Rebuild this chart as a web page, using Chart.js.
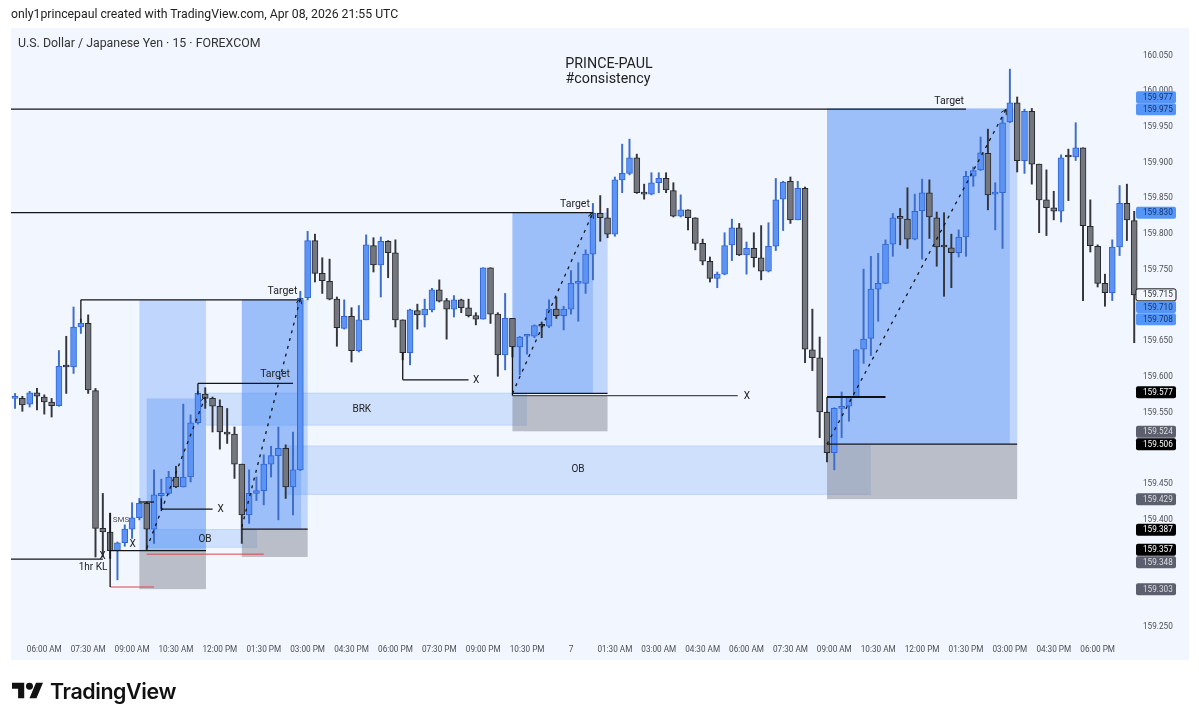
<!DOCTYPE html>
<html>
<head>
<meta charset="utf-8">
<title>USDJPY 15</title>
<script src="https://cdn.jsdelivr.net/npm/chart.js@4"></script>
<style>
    html, body { margin: 0; padding: 0; background: #fff; }
    #wrap { position: relative; width: 1199px; height: 722px; overflow: hidden; font-family: Roboto, sans-serif; }
    #chart { position: absolute; left: 0; top: 0; }
    #created { position: absolute; left: 11px; top: 7px; font-size: 12.25px; color: #222; white-space: nowrap; }
    #symbol { position: absolute; left: 18px; top: 36px; font-size: 12.35px; color: #333; white-space: nowrap; }
    #logo { position: absolute; left: 12px; top: 682px; }
    #brand { position: absolute; left: 50px; top: 678px; font-family: Inter, sans-serif; font-weight: 600; font-size: 21.4px; letter-spacing: -0.4px; color: #111; white-space: nowrap; }
</style>
</head>
<body>
<div id="wrap">
    <canvas id="chart" width="1199" height="722"></canvas>
    <div id="created">only1princepaul created with TradingView.com, Apr 08, 2026 21:55 UTC</div>
    <div id="symbol">U.S. Dollar / Japanese Yen · 15 · FOREXCOM</div>
    <svg id="logo" width="31" height="17" viewBox="0 4 35.5 18"><path fill="#111" d="M14 22H7V11H0V4h14v18zM28 22h-8l7.5-18h8L28 22z"/><circle fill="#111" cx="20" cy="8" r="4"/></svg>
    <div id="brand">TradingView</div>
</div>
<script>
// candles, first one sits 4 bars before the 06:00 AM tick
const opens = [
    159.570, 159.570, 159.562, 159.578, 159.572, 159.565, 159.560, 159.615, 159.614, 159.670,
    159.675, 159.581, 159.388, 159.383, 159.357, 159.368, 159.387, 159.403, 159.423, 159.387,
    159.434, 159.437, 159.460, 159.446, 159.460, 159.536, 159.576, 159.570, 159.559, 159.523,
    159.520, 159.478, 159.407, 159.437, 159.441, 159.478, 159.490, 159.500, 159.446, 159.470,
    159.711, 159.791, 159.745, 159.734, 159.709, 159.668, 159.685, 159.637, 159.680, 159.784,
    159.757, 159.790, 159.774, 159.680, 159.634, 159.693, 159.687, 159.694, 159.722, 159.707,
    159.695, 159.708, 159.697, 159.686, 159.681, 159.753, 159.688, 159.631, 159.682, 159.642,
    159.657, 159.657, 159.673, 159.671, 159.695, 159.686, 159.695, 159.731, 159.731, 159.772,
    159.829, 159.823, 159.800, 159.876, 159.885, 159.907, 159.858, 159.856, 159.872, 159.878,
    159.861, 159.825, 159.834, 159.823, 159.787, 159.762, 159.738, 159.744, 159.785, 159.809,
    159.771, 159.780, 159.767, 159.748, 159.783, 159.849, 159.874, 159.820, 159.864, 159.638,
    159.627, 159.551, 159.494, 159.556, 159.559, 159.572, 159.639, 159.654, 159.723, 159.731,
    159.786, 159.823, 159.821, 159.793, 159.833, 159.858, 159.823, 159.783, 159.781, 159.774,
    159.796, 159.881, 159.890, 159.913, 159.856, 159.858, 159.957, 159.984, 159.903, 159.972,
    159.898, 159.848, 159.837, 159.832, 159.909, 159.908, 159.921, 159.811, 159.783, 159.731,
    159.718, 159.782, 159.843, 159.819
];
const highs = [
    159.577, 159.573, 159.580, 159.584, 159.575, 159.570, 159.637, 159.657, 159.698, 159.681,
    159.687, 159.584, 159.437, 159.409, 159.369, 159.393, 159.424, 159.430, 159.425, 159.470,
    159.457, 159.468, 159.475, 159.562, 159.547, 159.580, 159.585, 159.572, 159.568, 159.556,
    159.530, 159.478, 159.470, 159.460, 159.491, 159.503, 159.530, 159.505, 159.523, 159.720,
    159.804, 159.800, 159.767, 159.765, 159.712, 159.708, 159.697, 159.700, 159.799, 159.795,
    159.796, 159.791, 159.792, 159.680, 159.695, 159.702, 159.709, 159.724, 159.736, 159.710,
    159.714, 159.709, 159.709, 159.690, 159.753, 159.753, 159.690, 159.717, 159.682, 159.657,
    159.659, 159.673, 159.677, 159.708, 159.712, 159.699, 159.749, 159.760, 159.778, 159.843,
    159.854, 159.836, 159.880, 159.926, 159.933, 159.912, 159.870, 159.886, 159.886, 159.886,
    159.872, 159.855, 159.834, 159.823, 159.793, 159.768, 159.747, 159.802, 159.821, 159.815,
    159.789, 159.802, 159.812, 159.816, 159.878, 159.874, 159.880, 159.874, 159.866, 159.695,
    159.656, 159.551, 159.557, 159.579, 159.572, 159.639, 159.751, 159.769, 159.773, 159.792,
    159.829, 159.836, 159.865, 159.856, 159.877, 159.876, 159.831, 159.830, 159.800, 159.806,
    159.888, 159.894, 159.936, 159.947, 159.872, 159.964, 160.031, 159.992, 159.975, 159.976,
    159.898, 159.890, 159.860, 159.911, 159.919, 159.956, 159.921, 159.848, 159.785, 159.744,
    159.792, 159.868, 159.870, 159.832
];
const lows = [
    159.556, 159.552, 159.558, 159.554, 159.548, 159.544, 159.559, 159.577, 159.605, 159.661,
    159.577, 159.348, 159.348, 159.346, 159.316, 159.363, 159.374, 159.400, 159.357, 159.367,
    159.415, 159.435, 159.445, 159.446, 159.453, 159.534, 159.556, 159.523, 159.499, 159.507,
    159.458, 159.367, 159.395, 159.427, 159.421, 159.460, 159.400, 159.430, 159.407, 159.469,
    159.708, 159.733, 159.717, 159.708, 159.643, 159.667, 159.621, 159.635, 159.680, 159.747,
    159.712, 159.739, 159.670, 159.624, 159.617, 159.667, 159.670, 159.691, 159.705, 159.653,
    159.684, 159.690, 159.684, 159.673, 159.681, 159.675, 159.601, 159.610, 159.628, 159.603,
    159.632, 159.655, 159.655, 159.669, 159.682, 159.666, 159.688, 159.678, 159.717, 159.736,
    159.790, 159.795, 159.797, 159.858, 159.883, 159.857, 159.849, 159.855, 159.858, 159.858,
    159.824, 159.824, 159.806, 159.778, 159.757, 159.733, 159.725, 159.743, 159.763, 159.770,
    159.744, 159.754, 159.736, 159.747, 159.777, 159.805, 159.815, 159.820, 159.620, 159.609,
    159.515, 159.481, 159.470, 159.515, 159.538, 159.571, 159.619, 159.630, 159.678, 159.731,
    159.769, 159.785, 159.780, 159.792, 159.765, 159.794, 159.755, 159.713, 159.725, 159.768,
    159.769, 159.867, 159.889, 159.834, 159.806, 159.780, 159.956, 159.887, 159.885, 159.870,
    159.802, 159.798, 159.820, 159.817, 159.847, 159.903, 159.707, 159.775, 159.726, 159.699,
    159.707, 159.770, 159.791, 159.648
];
const closes = [
    159.572, 159.561, 159.578, 159.573, 159.565, 159.560, 159.615, 159.614, 159.670, 159.675,
    159.582, 159.388, 159.383, 159.357, 159.368, 159.387, 159.403, 159.423, 159.387, 159.435,
    159.437, 159.460, 159.446, 159.460, 159.536, 159.577, 159.570, 159.559, 159.523, 159.520,
    159.478, 159.407, 159.437, 159.441, 159.478, 159.490, 159.500, 159.446, 159.470, 159.710,
    159.791, 159.745, 159.735, 159.709, 159.669, 159.685, 159.637, 159.680, 159.785, 159.757,
    159.790, 159.774, 159.680, 159.634, 159.694, 159.687, 159.695, 159.722, 159.706, 159.695,
    159.708, 159.697, 159.686, 159.681, 159.753, 159.688, 159.631, 159.682, 159.642, 159.656,
    159.658, 159.672, 159.671, 159.695, 159.686, 159.695, 159.731, 159.733, 159.772, 159.829,
    159.823, 159.800, 159.876, 159.885, 159.907, 159.858, 159.856, 159.872, 159.878, 159.862,
    159.825, 159.834, 159.823, 159.787, 159.762, 159.738, 159.744, 159.784, 159.809, 159.771,
    159.780, 159.767, 159.748, 159.783, 159.848, 159.873, 159.820, 159.864, 159.639, 159.627,
    159.551, 159.494, 159.556, 159.559, 159.572, 159.638, 159.653, 159.723, 159.731, 159.786,
    159.823, 159.822, 159.793, 159.832, 159.858, 159.824, 159.782, 159.782, 159.774, 159.796,
    159.881, 159.889, 159.914, 159.855, 159.858, 159.956, 159.984, 159.903, 159.972, 159.898,
    159.848, 159.837, 159.832, 159.907, 159.908, 159.921, 159.812, 159.784, 159.731, 159.718,
    159.782, 159.843, 159.820, 159.715
];

// time axis, one label every 6 bars
const timeLabels = [
    '06:00 AM', '07:30 AM', '09:00 AM', '10:30 AM', '12:00 PM', '01:30 PM', '03:00 PM', '04:30 PM', '06:00 PM',
    '07:30 PM', '09:00 PM', '10:30 PM', '7', '01:30 AM', '03:00 AM', '04:30 AM', '06:00 AM', '07:30 AM',
    '09:00 AM', '10:30 AM', '12:00 PM', '01:30 PM', '03:00 PM', '04:30 PM', '06:00 PM'
];
// 159.700, 159.350 and 159.300 are hidden behind the tags
const priceTicks = [160.05, 160.0, 159.95, 159.9, 159.85, 159.8, 159.75, 159.65, 159.6, 159.55, 159.5, 159.45, 159.4, 159.25];

// drawings: [bar from, bar to, price low, price high]
const positionBoxes = [[13, 22.1, 159.358, 159.708], [27, 36, 159.387, 159.708], [64, 77, 159.577, 159.83], [107, 133, 159.506, 159.976]];
const innerBoxes = [[14, 22.1, 159.358, 159.57], [27, 35.1, 159.387, 159.708], [64, 75, 159.577, 159.83], [107, 132, 159.506, 159.976]];
const stopBoxes = [[13, 22.1, 159.303, 159.358], [27, 36, 159.348, 159.387], [64, 77, 159.524, 159.574], [107, 133, 159.429, 159.506]];
const zoneBoxes = [[22.1, 66, 159.532, 159.578], [14, 29.1, 159.361, 159.387], [33.2, 113, 159.435, 159.504]];

// drawings: [bar from, price, bar to, price]
const blackLines = [
    [-4.55, 159.345, 8, 159.345], [5, 159.708, 34.6, 159.708], [5, 159.708, 5, 159.676], [9, 159.41, 9, 159.306],
    [9, 159.357, 22.1, 159.357], [13, 159.425, 15, 159.425], [16, 159.415, 23, 159.415], [16, 159.415, 16, 159.43],
    [21, 159.591, 34, 159.591], [21, 159.591, 21, 159.575], [27, 159.387, 36, 159.387],
    [-4.55, 159.975, 126, 159.975], [-4.55, 159.83, 75, 159.83], [49, 159.634, 49, 159.596], [49, 159.596, 58, 159.596],
    [64, 159.577, 77, 159.577], [64, 159.643, 64, 159.574], [107, 159.572, 107, 159.55], [107, 159.506, 133, 159.506]
];
const grayLines = [[64, 159.574, 94.8, 159.574]];
const thickLines = [[107, 159.572, 115, 159.572]];
const redLines = [[9, 159.306, 15, 159.306], [14, 159.352, 30, 159.352]];
const dashedLines = [[14, 159.36, 22, 159.572], [27, 159.39, 35, 159.71], [64, 159.577, 75, 159.83], [107, 159.506, 131.5, 159.975]];

// notes on the chart: [bar, price, text, font size]
const notes = [
    [77.2, 160.037, 'PRINCE-PAUL', 14.3], [77.06, 160.016, '#consistency', 14.3],
    [32.56, 159.72, 'Target', 10.5], [31.54, 159.603, 'Target', 10.5], [72.55, 159.842, 'Target', 10.5], [123.7, 159.986, 'Target', 10.5],
    [7.96, 159.349, 'X', 10], [6.66, 159.333, '1hr KL', 10], [12.06, 159.365, 'X', 10], [24.09, 159.415, 'X', 10],
    [10.49, 159.4, 'SMS', 8], [21.97, 159.373, 'OB', 10], [43.4, 159.554, 'BRK', 10], [72.96, 159.47, 'OB', 10],
    [59.02, 159.595, 'X', 10], [96.06, 159.573, 'X', 10]
];

// price tags on the right axis, stacked where they would collide
const tagLabels = ['159.977', '159.975', '159.830', '159.715', '159.710', '159.708', '159.577', '159.524', '159.506', '159.429', '159.387', '159.357', '159.348', '159.303'];
const tagPrices = [159.9916, 159.975, 159.83, 159.715, 159.698, 159.681, 159.5786, 159.5234, 159.506, 159.429, 159.386, 159.358, 159.3406, 159.303];
const tagKinds = ['blue', 'blue', 'blue', 'last', 'blue', 'blue', 'black', 'gray', 'black', 'gray', 'black', 'black', 'gray', 'gray'];

const barIndex = opens.map((_, n) => n - 4);
const upColor = '#5d93f2', upBorder = '#2f66d8', upWick = '#3d6cc9';
const downColor = '#74777d', downBorder = '#26272c', downWick = '#34363b';
const isUp = n => closes[n] >= opens[n];

function makeSegments(list, color, width, dash) {
    return list.map(s => ({
        type: 'line',
        data: [{ x: s[0], y: s[1] }, { x: s[2], y: s[3] }],
        borderColor: color,
        borderWidth: width,
        borderDash: dash || [],
        pointRadius: 0,
        order: 0
    }));
}

const drawingsPlugin = {
    id: 'drawings',
    beforeDraw(chart) {
        const c = chart.ctx;
        c.save();
        c.fillStyle = '#f1f6ff';
        c.fillRect(11, 28, 1178, 632);
        c.restore();
    },
    beforeDatasetsDraw(chart) {
        const c = chart.ctx, x = chart.scales.x, y = chart.scales.y;
        const fillBoxes = (list, color, edge) => list.forEach(b => {
            const left = x.getPixelForValue(b[0]), right = x.getPixelForValue(b[1]);
            const top = y.getPixelForValue(b[3]), bottom = y.getPixelForValue(b[2]);
            c.fillStyle = color;
            c.fillRect(left, top, right - left, bottom - top);
            if (edge) {
                c.fillStyle = edge;
                c.fillRect(left, top, right - left, 1);
                c.fillRect(left, bottom - 1, right - left, 1);
            }
        });
        c.save();
        fillBoxes(zoneBoxes, 'rgba(66,133,244,0.19)', 'rgba(66,133,244,0.12)');
        fillBoxes(positionBoxes, 'rgba(66,133,244,0.28)');
        fillBoxes(innerBoxes, 'rgba(66,133,244,0.28)');
        fillBoxes(stopBoxes, 'rgba(120,123,134,0.45)');
        c.restore();
    },
    afterDatasetsDraw(chart) {
        const c = chart.ctx, x = chart.scales.x, y = chart.scales.y;
        c.save();
        // arrow heads on the dashed lines
        c.strokeStyle = '#1e1f24';
        c.lineWidth = 1;
        dashedLines.forEach(d => {
            const px = x.getPixelForValue(d[2]), py = y.getPixelForValue(d[3]);
            const a = Math.atan2(py - y.getPixelForValue(d[1]), px - x.getPixelForValue(d[0]));
            c.beginPath();
            c.moveTo(px - 6 * Math.cos(a - 0.5), py - 6 * Math.sin(a - 0.5));
            c.lineTo(px, py);
            c.lineTo(px - 6 * Math.cos(a + 0.5), py - 6 * Math.sin(a + 0.5));
            c.stroke();
        });
        c.textAlign = 'center';
        c.textBaseline = 'middle';
        notes.forEach(n => {
            c.font = n[3] + 'px Roboto';
            c.fillStyle = n[2] === 'SMS' ? '#555' : '#222';
            c.fillText(n[2], x.getPixelForValue(n[0]), y.getPixelForValue(n[1]));
        });
        c.restore();
    },
    afterDraw(chart) {
        const c = chart.ctx, y = chart.scales.y;
        const styles = {
            blue: ['#5595f5', '#16346e'],
            black: ['#000000', '#ffffff'],
            gray: ['#5c5f6e', '#dcdde0'],
            last: ['#f1f6ff', '#333333']
        };
        c.save();
        c.font = '8.2px Roboto';
        c.textAlign = 'left';
        c.textBaseline = 'middle';
        tagLabels.forEach((label, n) => {
            const py = y.getPixelForValue(tagPrices[n]), style = styles[tagKinds[n]];
            c.beginPath();
            c.roundRect(1136, py - 6, 40, 12, 2);
            c.fillStyle = style[0];
            c.fill();
            if (tagKinds[n] === 'last') {
                c.strokeStyle = '#111';
                c.lineWidth = 1;
                c.stroke();
            }
            c.fillStyle = style[1];
            c.fillText(label, 1143, py + 0.5);
        });
        c.restore();
    }
};

new Chart(document.getElementById('chart').getContext('2d'), {
    type: 'bar',
    plugins: [drawingsPlugin],
    data: {
        datasets: [
            ...makeSegments(blackLines, '#141518', 1.3),
            ...makeSegments(grayLines, '#4a4c52', 1.3),
            ...makeSegments(thickLines, '#111', 2),
            ...makeSegments(redLines, '#d9474b', 1),
            ...makeSegments(dashedLines, '#141518', 1.3, [3, 5]),
            {
                label: 'body',
                data: barIndex.map((i, n) => ({ x: i, y: [opens[n], closes[n]] })),
                backgroundColor: ctx => isUp(ctx.dataIndex) ? upColor : downColor,
                borderColor: ctx => isUp(ctx.dataIndex) ? upBorder : downBorder,
                borderWidth: 1,
                borderSkipped: false,
                barThickness: 6,
                minBarLength: 2,
                grouped: false,
                clip: false,
                order: 1
            },
            {
                label: 'wick',
                data: barIndex.map((i, n) => ({ x: i, y: [lows[n], highs[n]] })),
                backgroundColor: ctx => isUp(ctx.dataIndex) ? upWick : downWick,
                borderWidth: 0,
                barThickness: 1.3,
                grouped: false,
                clip: false,
                order: 2
            }
        ]
    },
    options: {
        responsive: false,
        animation: false,
        layout: { padding: { left: 11, top: 28, right: 10, bottom: 62 } },
        plugins: { legend: { display: false }, tooltip: { enabled: false }, title: { display: false } },
        scales: {
            x: {
                type: 'linear',
                offset: false,
                min: -4.552,
                max: 149.79,
                grid: { display: false, drawTicks: false },
                border: { display: false },
                afterFit(scale) { scale.height = 24; },
                afterBuildTicks(scale) { scale.ticks = timeLabels.map((_, n) => ({ value: n * 6 })); },
                ticks: {
                    autoSkip: false,
                    maxRotation: 0,
                    padding: 9,
                    color: '#4d4f55',
                    font: { family: 'Roboto', size: 8.2 },
                    callback: value => timeLabels[value / 6]
                }
            },
            y: {
                type: 'linear',
                position: 'right',
                min: 159.2374,
                max: 160.0886,
                grid: { display: false, drawTicks: false },
                border: { display: false },
                afterFit(scale) { scale.width = 49; },
                afterBuildTicks(scale) { scale.ticks = priceTicks.map(v => ({ value: v })); },
                ticks: {
                    autoSkip: false,
                    padding: 3,
                    color: '#4d4f55',
                    font: { family: 'Roboto', size: 8.2 },
                    callback: value => Number(value).toFixed(3)
                }
            }
        }
    }
});
</script>
</body>
</html>
